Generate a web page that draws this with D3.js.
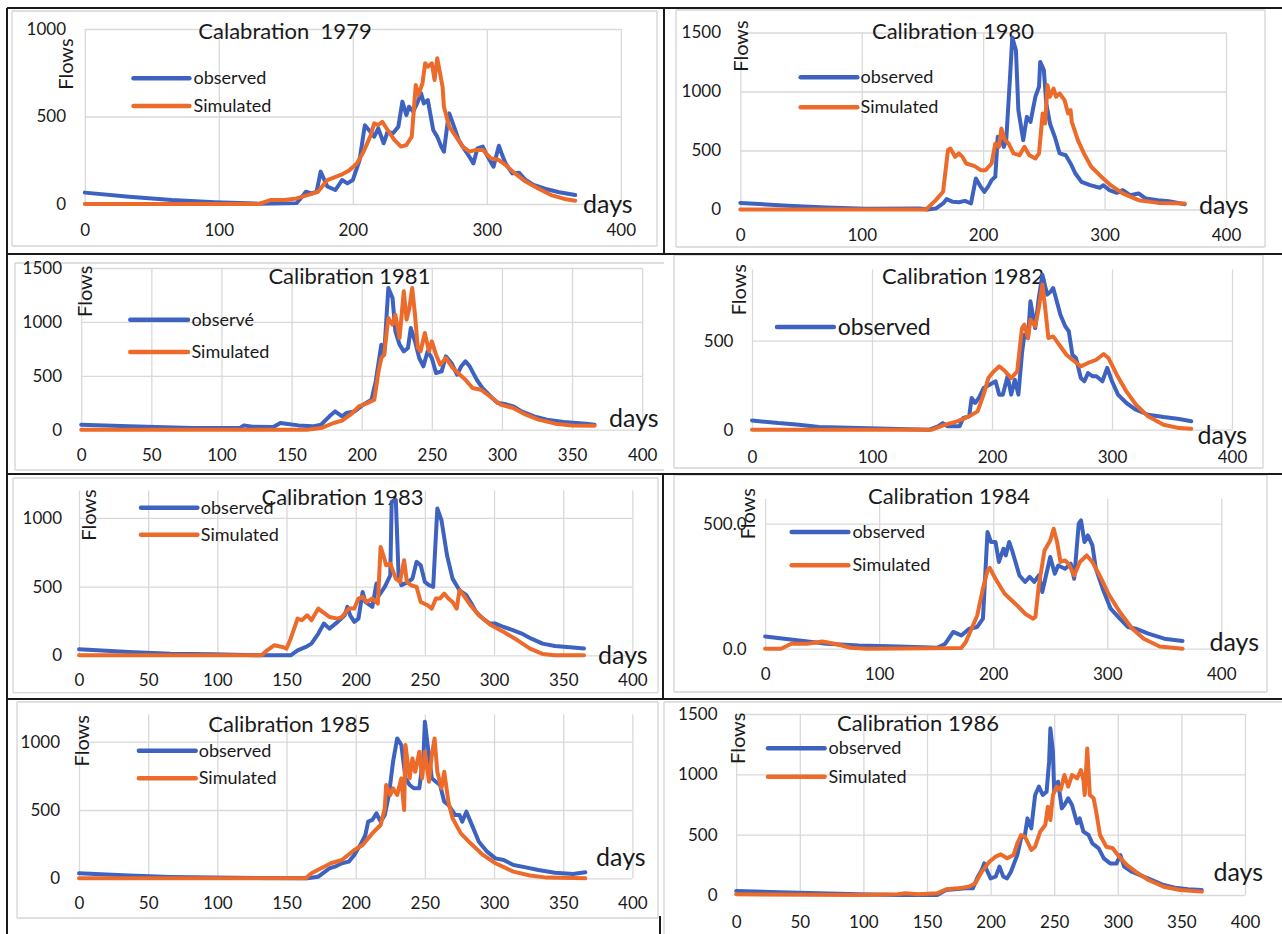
<!DOCTYPE html>
<html><head><meta charset="utf-8">
<script src="https://cdn.jsdelivr.net/npm/d3@7"></script>
<style>
body{margin:0;background:#fff}
svg{display:block}
text{font-family:Lato,"Open Sans",sans-serif;fill:#1a1a1a}
</style>
</head><body>
<svg id="c" width="1282" height="934"></svg>
<script>
// ---------------- DATA ----------------
const titles = ["Calabration  1979","Calibration 1980","Calibration 1981","Calibration 1982",
                "Calibration 1983","Calibration 1984","Calibration 1985","Calibration 1986"];
const seriesNames = ["observed","Simulated"];
const seriesNames1981 = ["observé","Simulated"];
const xTicks100 = [0,100,200,300,400];
const xTicks50 = [0,50,100,150,200,250,300,350,400];
const yTicks1000 = [0,500,1000];
const yTicks1500 = [0,500,1000,1500];
const yTicks500 = [0,500];
const xLabel = "days", yLabel = "Flows";

const obs1979 = [[0,65],[33,42],[65,23],[97,10],[130,2],[158,5],[162,40],[165,70],[169,60],[173,70],[176,185],[181,100],[187,80],[192,137],[196,118],[200,137],[205,250],[209,450],[212,423],[216,385],[219,432],[223,347],[226,413],[230,404],[234,442],[237,585],[240,508],[242,556],[245,528],[248,575],[251,632],[253,575],[256,594],[260,423],[263,385],[266,328],[268,299],[271,480],[272,518],[276,432],[279,366],[282,328],[287,270],[290,232],[293,318],[297,328],[300,280],[305,213],[309,333],[311,290],[314,232],[319,175],[324,179],[329,137],[335,109],[345,84],[354,67],[366,51]];
const sim1979 = [[0,0],[130,0],[139,23],[149,23],[158,32],[168,55],[174,70],[181,137],[191,166],[197,190],[203,232],[208,299],[213,385],[216,461],[219,451],[222,470],[226,423],[231,366],[236,328],[240,337],[244,385],[247,680],[249,623],[252,690],[254,804],[256,785],[259,804],[261,709],[263,833],[267,670],[268,556],[272,442],[277,385],[282,328],[287,299],[292,309],[297,309],[303,261],[309,251],[314,223],[321,175],[329,128],[338,90],[348,51],[358,29],[366,19]];

const obs1980 = [[0,56],[39,31],[71,17],[103,6],[148,8],[154,0],[161,8],[167,51],[170,88],[175,65],[180,62],[185,73],[190,51],[194,263],[198,192],[201,150],[204,192],[207,249],[210,277],[212,616],[215,588],[217,531],[219,588],[222,1096],[224,1458],[227,1350],[229,842],[233,588],[236,785],[239,743],[243,955],[246,1040],[247,1251],[250,1181],[252,898],[255,729],[259,616],[263,475],[268,460],[272,390],[276,305],[281,234],[288,206],[296,184],[299,206],[304,164],[310,141],[315,164],[321,121],[328,136],[334,93],[344,79],[353,71],[366,45]];
const sim1980 = [[0,0],[153,0],[161,79],[167,150],[171,503],[173,517],[177,446],[180,475],[183,446],[186,390],[193,367],[198,333],[202,333],[207,390],[210,559],[213,531],[215,686],[218,588],[221,559],[225,475],[230,460],[234,531],[238,460],[243,432],[246,475],[249,814],[251,729],[253,1054],[255,955],[258,1025],[260,955],[263,983],[267,927],[270,814],[272,842],[273,743],[278,588],[283,475],[289,362],[296,291],[305,206],[315,136],[328,79],[344,56],[366,51]];

const obs1981 = [[0,46],[34,31],[79,15],[113,15],[116,40],[122,28],[137,25],[142,62],[146,56],[155,40],[165,31],[171,46],[177,124],[181,170],[186,124],[189,155],[195,170],[201,232],[207,278],[210,448],[214,789],[216,696],[219,1315],[222,1222],[224,912],[227,789],[230,727],[233,758],[235,943],[238,820],[241,665],[244,588],[247,727],[250,665],[253,526],[257,541],[260,680],[264,619],[268,510],[271,588],[274,634],[277,588],[282,464],[286,387],[293,294],[297,247],[302,238],[308,217],[314,170],[323,124],[332,93],[344,71],[360,56],[366,46]];
const sim1981 = [[0,0],[161,0],[171,15],[180,62],[186,84],[192,139],[198,217],[204,247],[209,278],[212,541],[214,665],[216,696],[219,1036],[222,974],[224,1067],[227,851],[230,1284],[232,1021],[234,1129],[236,1315],[238,1067],[240,758],[242,727],[245,897],[248,727],[250,820],[253,696],[256,603],[260,665],[265,572],[270,510],[274,464],[279,387],[285,371],[293,294],[299,232],[308,201],[317,139],[326,93],[338,56],[350,40],[366,37]];

const obs1982 = [[0,52],[22,37],[39,28],[56,15],[89,9],[122,4],[148,0],[155,19],[159,37],[163,19],[168,19],[173,19],[176,66],[181,75],[183,178],[186,150],[189,178],[193,234],[198,253],[203,272],[206,197],[209,197],[213,300],[216,197],[219,281],[222,197],[225,431],[227,534],[230,515],[232,721],[236,571],[239,740],[242,871],[246,759],[249,777],[251,796],[254,721],[257,646],[261,581],[264,553],[267,421],[270,403],[274,290],[277,272],[280,318],[284,300],[287,300],[292,272],[296,347],[300,272],[305,197],[312,150],[320,112],[330,84],[343,71],[356,60],[366,47]];
const sim1982 = [[0,0],[150,0],[161,28],[171,47],[181,75],[188,103],[193,197],[197,290],[201,324],[206,356],[211,328],[216,290],[221,328],[225,571],[227,590],[230,515],[232,618],[236,581],[239,684],[242,815],[244,702],[247,515],[251,524],[254,496],[258,459],[262,421],[267,393],[274,356],[280,375],[287,393],[293,425],[297,403],[304,309],[312,215],[320,140],[330,75],[343,28],[356,9],[366,6]];

const obs1983 = [[0,44],[36,24],[66,12],[97,7],[128,0],[153,0],[158,36],[164,61],[168,85],[173,158],[177,231],[181,194],[187,243],[192,291],[194,352],[196,291],[199,243],[202,267],[205,461],[207,388],[212,352],[215,522],[217,437],[221,498],[225,582],[226,1116],[229,1129],[231,582],[233,510],[238,534],[241,558],[244,680],[247,655],[250,534],[253,510],[256,498],[259,1068],[262,983],[266,728],[270,558],[275,473],[280,437],[283,388],[287,316],[292,267],[297,231],[301,231],[307,206],[314,182],[320,158],[327,121],[335,85],[344,68],[357,56],[365,49]];
const sim1983 = [[0,0],[132,0],[136,36],[141,73],[147,61],[150,49],[153,121],[158,267],[161,255],[165,291],[168,255],[173,340],[176,316],[181,279],[187,267],[190,279],[195,340],[199,340],[202,413],[205,425],[208,388],[212,413],[216,376],[218,789],[220,728],[222,655],[225,667],[229,558],[232,534],[235,692],[237,534],[240,510],[244,498],[247,388],[252,364],[255,340],[258,413],[261,413],[264,449],[267,413],[270,388],[273,340],[275,473],[278,437],[283,364],[289,291],[298,218],[307,170],[317,109],[326,49],[335,10],[344,0],[365,0]];

const obs1984 = [[0,49],[30,33],[54,20],[82,13],[117,9],[151,4],[158,20],[165,67],[172,53],[179,80],[186,87],[191,120],[195,467],[198,427],[202,427],[205,347],[209,400],[211,373],[214,427],[217,387],[223,293],[228,267],[232,287],[236,267],[240,293],[243,227],[247,307],[250,367],[254,300],[257,333],[263,320],[268,340],[271,280],[275,500],[277,513],[280,427],[283,453],[287,413],[290,320],[296,240],[303,160],[311,120],[318,87],[325,80],[336,60],[350,40],[366,31]];
const sim1984 = [[0,0],[14,0],[23,20],[37,20],[50,29],[61,20],[75,4],[89,0],[172,3],[176,27],[181,80],[186,133],[191,240],[195,313],[197,323],[202,280],[210,220],[221,173],[228,140],[235,120],[237,127],[240,253],[245,393],[250,433],[253,480],[256,427],[259,347],[263,353],[266,340],[271,293],[276,347],[282,373],[287,347],[294,287],[301,220],[311,147],[322,80],[332,40],[346,9],[366,0]];

const obs1985 = [[0,37],[36,20],[66,10],[97,5],[165,0],[173,12],[181,73],[185,85],[190,110],[195,122],[199,171],[204,256],[207,317],[209,415],[212,427],[215,476],[218,415],[221,463],[224,610],[227,854],[230,1024],[233,976],[236,732],[239,683],[242,659],[246,659],[249,902],[250,1146],[252,976],[255,732],[258,707],[261,683],[264,561],[267,537],[272,463],[275,463],[277,415],[280,488],[283,415],[289,268],[295,195],[301,146],[307,134],[314,98],[323,80],[332,61],[344,41],[357,32],[366,44]];
const sim1985 = [[0,0],[164,0],[168,37],[175,73],[182,110],[190,134],[199,207],[205,244],[212,329],[218,390],[221,512],[222,683],[225,610],[227,659],[230,610],[233,732],[235,500],[236,976],[239,732],[241,878],[243,780],[246,927],[248,732],[250,927],[253,707],[255,902],[257,1024],[259,780],[262,659],[264,780],[267,561],[270,439],[276,329],[283,256],[292,171],[301,110],[314,49],[326,20],[338,5],[366,0]];

const obs1986 = [[0,33],[34,22],[65,14],[96,6],[127,0],[158,0],[165,41],[174,50],[180,55],[186,55],[190,152],[193,207],[195,262],[197,207],[200,138],[204,152],[207,235],[210,152],[213,138],[216,193],[221,331],[224,470],[227,497],[229,635],[232,552],[235,829],[238,898],[241,829],[244,856],[246,1105],[247,1381],[249,1188],[250,856],[253,939],[256,718],[258,746],[261,801],[264,746],[268,594],[270,635],[273,525],[277,497],[280,428],[285,387],[289,304],[294,262],[299,262],[302,331],[305,235],[311,193],[317,166],[327,124],[336,83],[345,61],[355,47],[366,41]];
const sim1986 = [[0,6],[96,0],[127,6],[133,14],[143,6],[158,14],[165,47],[174,55],[183,69],[188,97],[193,193],[199,276],[204,318],[208,337],[213,304],[218,331],[221,428],[224,497],[227,483],[232,373],[235,400],[239,525],[243,580],[245,732],[247,621],[249,829],[252,898],[255,870],[258,994],[261,898],[264,994],[268,967],[271,1036],[273,953],[274,829],[276,1215],[278,829],[281,801],[283,691],[286,497],[291,400],[296,387],[300,331],[307,249],[314,193],[324,124],[336,69],[349,41],[366,28]];

// ---------------- LAYOUT (positions / styles) ----------------
const C_OBS = "#3d62c0", C_SIM = "#ec6a2a", C_GRID = "#d9d9d9";
// frame: [x0,y0,x1,y1, edges drawn: t r b l]
const panels = [
 {title:titles[0], obs:obs1979, sim:sim1979, names:seriesNames, xt:xTicks100, yt:yTicks1000, ymax:1000,
  xr:[84.8,620.8], yr:[204,29], ylx:66, xly:236, tc:[285,31.5], lg:{x0:133.5,x1:189.4,tx:193.5,ys:[78.3,106],fs:18}, fl:[66,64], dp:[583,213],
  frame:[12,11,657,246,"trbl"]},
 {title:titles[1], obs:obs1980, sim:sim1980, names:seriesNames, xt:xTicks100, yt:yTicks1500, ymax:1500,
  xr:[740.3,1226], yr:[209.5,32.5], ylx:721, xly:241, tc:[953,31], lg:{x0:800.7,x1:857.3,tx:860.5,ys:[77.3,107.3],fs:18}, fl:[741,46], dp:[1199,214],
  frame:[676,10,1265,247,"trbl"]},
 {title:titles[2], obs:obs1981, sim:sim1981, names:seriesNames1981, xt:xTicks50, yt:yTicks1500, ymax:1500,
  xr:[81.2,642.2], yr:[429.7,268], ylx:62, xly:460.5, tc:[349.4,276.3], lg:{x0:130.3,x1:188,tx:191.4,ys:[319.7,352],fs:18}, fl:[84.5,291.3], dp:[609,427],
  frame:[15,263,664,470,"tbl"]},
 {title:titles[3], obs:obs1982, sim:sim1982, names:["observed"], xt:xTicks100, yt:yTicks500, ymax:900,
  xr:[752,1232], yr:[429.7,269.5], ylx:733.4, xly:463, tc:[963,276], lg:{x0:777,x1:833.8,tx:837.7,ys:[327],fs:23}, fl:[738.3,289.7], dp:[1197.5,443.5],
  frame:[674,255,1263,468,"trbl"]},
 {title:titles[4], obs:obs1983, sim:sim1983, names:seriesNames, xt:xTicks50, yt:yTicks1000, ymax:1200,
  xr:[79,632.4], yr:[655.3,490.4], ylx:62, xly:686, tc:[342.5,497], lg:{x0:141,x1:197.4,tx:200.8,ys:[507.7,534.7],fs:18}, fl:[88.5,515], dp:[598,664],
  frame:[13,478,658,692.6,"trbl"]},
 {title:titles[5], obs:obs1984, sim:sim1984, names:seriesNames, xt:xTicks100, yt:yTicks500, ymax:600, fmt:d3.format(".1f"),
  xr:[765.1,1221.3], yr:[648.7,498.7], ylx:746.5, xly:679.5, tc:[949,496.3], lg:{x0:791.7,x1:848.4,tx:852.4,ys:[532,565.3],fs:18}, fl:[748,513.7], dp:[1209.4,651],
  frame:[674,475,1267,692,"trbl"]},
 {title:titles[6], obs:obs1985, sim:sim1985, names:seriesNames, xt:xTicks50, yt:yTicks1000, ymax:1200,
  xr:[79,632.4], yr:[878.3,714.4], ylx:60, xly:909, tc:[289.3,724.3], lg:{x0:138.9,x1:195.7,tx:198.7,ys:[750.7,778.3],fs:18}, fl:[82,740.8], dp:[596,865.5],
  frame:[17,702,658,918,"trbl"]},
 {title:titles[7], obs:obs1986, sim:sim1986, names:seriesNames, xt:xTicks50, yt:yTicks1500, ymax:1500,
  xr:[736.2,1245], yr:[895,714], ylx:717.5, xly:927.5, tc:[918,723.3], lg:{x0:768,x1:824.6,tx:828.6,ys:[748.3,776.7],fs:18}, fl:[738,738.3], dp:[1213.4,880.5],
  frame:[664,702,1290,940,"tl"]}
];

const svg = d3.select("#c");
svg.append("rect").attr("width",1282).attr("height",934).attr("fill","#fff");

// light chart-area frames
const FR = svg.append("g").attr("stroke","#d4d4d4").attr("stroke-width",1.3);
panels.forEach(p=>{
  const [x0,y0,x1,y1,e]=p.frame;
  const edges = {t:[x0,y0,x1,y0], r:[x1,y0,x1,y1], b:[x0,y1,x1,y1], l:[x0,y0,x0,y1]};
  e.split("").forEach(k=>{const s=edges[k];
    FR.append("line").attr("x1",s[0]).attr("y1",s[1]).attr("x2",s[2]).attr("y2",s[3]);});
});

panels.forEach(p=>{
  const g = svg.append("g");
  const x = d3.scaleLinear().domain([0,400]).range(p.xr);
  const y = d3.scaleLinear().domain([0,p.ymax]).range(p.yr);
  const fmt = p.fmt || (d=>d);

  // y axis + horizontal gridlines
  const ya = d3.axisLeft(y).tickValues(p.yt).tickFormat(fmt)
      .tickSize(-(p.xr[1]-p.xr[0])).tickPadding(p.xr[0]-p.ylx);
  const gy = g.append("g").attr("transform",`translate(${p.xr[0]},0)`).call(ya);
  // x axis + vertical gridlines
  const xa = d3.axisBottom(x).tickValues(p.xt)
      .tickSize(-(p.yr[0]-p.yr[1])).tickPadding(p.xly-p.yr[0]-12);
  const gx = g.append("g").attr("transform",`translate(0,${p.yr[0]})`).call(xa);
  [gx,gy].forEach(a=>{
    a.select(".domain").remove();
    a.selectAll(".tick line").attr("stroke",C_GRID).attr("stroke-width",1.3);
    a.selectAll(".tick text").attr("font-size",17).attr("font-family","Lato, sans-serif").attr("fill","#1a1a1a");
  });

  // title
  g.append("text").attr("x",p.tc[0]).attr("y",p.tc[1]).attr("dy","0.36em")
    .attr("text-anchor","middle").attr("font-size",22).style("white-space","pre").text(p.title);

  // axis labels
  g.append("text").attr("transform",`translate(${p.fl[0]},${p.fl[1]}) rotate(-90)`)
    .attr("text-anchor","middle").attr("dy","0.36em").attr("font-size",20).text(yLabel);
  g.append("text").attr("x",p.dp[0]).attr("y",p.dp[1]).attr("font-size",25).text(xLabel);

  // legend
  const cols=[C_OBS,C_SIM];
  p.names.forEach((n,i)=>{
    g.append("line").attr("x1",p.lg.x0).attr("x2",p.lg.x1).attr("y1",p.lg.ys[i]).attr("y2",p.lg.ys[i])
      .attr("stroke",cols[i]).attr("stroke-width",4.5).attr("stroke-linecap","round");
    g.append("text").attr("x",p.lg.tx).attr("y",p.lg.ys[i]).attr("dy","0.33em")
      .attr("font-size",p.lg.fs).text(n);
  });

  // series
  const line = d3.line().x(d=>x(d[0])).y(d=>y(d[1]));
  [[p.obs,C_OBS],[p.sim,C_SIM]].forEach(([data,c])=>{
    g.append("path").datum(data).attr("d",line).attr("fill","none")
      .attr("stroke",c).attr("stroke-width",4).attr("stroke-linejoin","round").attr("stroke-linecap","round");
  });
});

// black table borders
const B = svg.append("g").attr("stroke","#1a1a1a").attr("stroke-width",2);
const segs = [
  [7,8,1282,8],[7,8,7,934],
  [7,254,1282,254],[7,474,1282,474],[7,699,1282,699],
  [664,8,664,254],[663,474,663,699],[660,916,660,934]
];
segs.forEach(s=>B.append("line").attr("x1",s[0]).attr("y1",s[1]).attr("x2",s[2]).attr("y2",s[3]));
</script>
</body></html>
